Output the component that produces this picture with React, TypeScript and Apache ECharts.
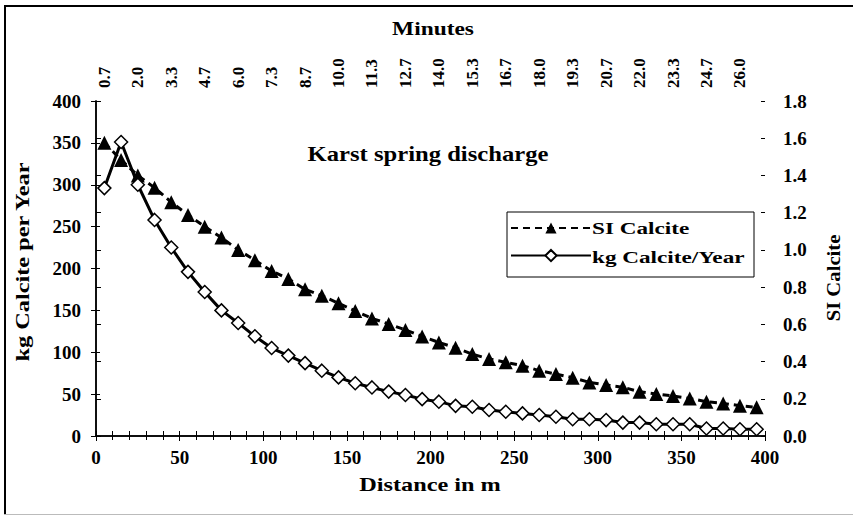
import React, { useEffect, useRef } from "react";
import * as echarts from "echarts";

const distances = [5, 15, 25, 35, 45, 55, 65, 75, 85, 95, 105, 115, 125, 135, 145, 155, 165, 175, 185, 195, 205, 215, 225, 235, 245, 255, 265, 275, 285, 295, 305, 315, 325, 335, 345, 355, 365, 375, 385, 395];
const minutes = ["0.7", "1.3", "2.0", "2.7", "3.3", "4.0", "4.7", "5.3", "6.0", "6.7", "7.3", "8.0", "8.7", "9.3", "10.0", "10.7", "11.3", "12.0", "12.7", "13.3", "14.0", "14.7", "15.3", "16.0", "16.7", "17.3", "18.0", "18.7", "19.3", "20.0", "20.7", "21.3", "22.0", "22.7", "23.3", "24.0", "24.7", "25.3", "26.0", "26.7"];
const kgCalcite = [296, 351, 300, 258, 225, 196, 172, 150, 135, 119, 105, 96, 87, 78, 70, 63, 58, 53, 49, 44, 41, 36, 35, 31, 29, 27, 25, 23, 20, 20, 19, 16, 16, 14, 14, 14, 9, 9, 8, 8];
const siCalcite = [1.576, 1.483, 1.40, 1.334, 1.256, 1.188, 1.125, 1.066, 1.0, 0.945, 0.887, 0.844, 0.788, 0.754, 0.713, 0.672, 0.632, 0.602, 0.57, 0.535, 0.503, 0.474, 0.44, 0.414, 0.396, 0.378, 0.351, 0.333, 0.313, 0.288, 0.274, 0.262, 0.238, 0.226, 0.215, 0.202, 0.184, 0.175, 0.163, 0.154];
const seriesNames = ["SI Calcite", "kg Calcite/Year"];

const FONT = "Liberation Serif";

export default function App() {
  const ref = useRef<HTMLDivElement>(null);
  useEffect(() => {
    if (!ref.current) return;
    const chart = echarts.init(ref.current, undefined, { renderer: "svg" });
    const lbl = { fontFamily: FONT, fontWeight: "bold" as const, fontSize: 19, color: "#000" };
    const axisLine = { show: true, lineStyle: { color: "#000", width: 1.5 } };
    const tickOut = { show: true, length: 5, lineStyle: { color: "#000", width: 1 } };
    const tickIn = { show: true, inside: true, length: 4, lineStyle: { color: "#000", width: 1 } };
    const txt = (text: string, x: number, y: number, size: number, sx: number, rot = 0) => ({
      type: "text", x, y, rotation: rot, scaleX: sx, scaleY: 1,
      style: { text, font: `bold ${size}px "${FONT}"`, fill: "#000", align: "center", verticalAlign: "middle" },
    });
    chart.setOption({
      animation: false,
      backgroundColor: "#fff",
      grid: { left: 96, right: 88, top: 101, bottom: 80, containLabel: false },
      xAxis: [
        {
          type: "value", position: "bottom", min: 0, max: 400, interval: 50,
          axisLine, axisTick: tickOut, splitLine: { show: false },
          axisLabel: { ...lbl, margin: 12 },
        },
        {
          type: "category", position: "top", data: minutes, boundaryGap: true,
          axisLine, axisTick: { ...tickOut, interval: 0 }, splitLine: { show: false },
          axisLabel: { ...lbl, fontSize: 17, interval: 1, rotate: 90, margin: 13 },
        },
        {
          type: "value", position: "bottom", min: 0, max: 400, interval: 50,
          axisLine: { show: false }, axisTick: tickIn, axisLabel: { show: false }, splitLine: { show: false },
        },
        {
          type: "category", position: "top", data: minutes, boundaryGap: true,
          axisLine: { show: false }, axisTick: { ...tickIn, interval: 0 }, axisLabel: { show: false }, splitLine: { show: false },
        },
      ],
      yAxis: [
        {
          type: "value", position: "left", min: 0, max: 400, interval: 50,
          axisLine, axisTick: tickOut, splitLine: { show: false },
          axisLabel: { ...lbl, margin: 15 },
        },
        {
          type: "value", position: "right", min: 0, max: 1.8, interval: 0.2,
          axisLine, axisTick: tickOut, splitLine: { show: false },
          axisLabel: { ...lbl, margin: 18, formatter: (v: number) => v.toFixed(1) },
        },
        {
          type: "value", position: "left", min: 0, max: 400, interval: 50,
          axisLine: { show: false }, axisTick: tickIn, axisLabel: { show: false }, splitLine: { show: false },
        },
        {
          type: "value", position: "right", min: 0, max: 1.8, interval: 0.2,
          axisLine: { show: false }, axisTick: tickIn, axisLabel: { show: false }, splitLine: { show: false },
        },
      ],
      legend: {
        orient: "vertical", left: 510, top: 221,
        itemWidth: 80, itemHeight: 14, itemGap: 15,
        padding: 0, selectedMode: false,
        formatter: () => "",
        textStyle: { fontSize: 1 },
        data: seriesNames,
      },
      graphic: [
        txt("Karst spring discharge", 428, 153, 22, 1.12),
        txt("Minutes", 433, 29, 18, 1.3),
        txt("Distance in m", 430, 485, 18, 1.35),
        txt("kg Calcite per Year", 23, 262, 18, 1.35, Math.PI / 2),
        txt("SI Calcite", 834, 278, 18, 1.15, Math.PI / 2),
        { type: "rect", shape: { x: 507, y: 212, width: 247, height: 65 }, style: { fill: "none", stroke: "#000", lineWidth: 1 } },
        { type: "text", x: 592, y: 228, scaleX: 1.45, style: { text: seriesNames[0], font: `bold 16px "${FONT}"`, fill: "#000", align: "left", verticalAlign: "middle" } },
        { type: "text", x: 592, y: 257, scaleX: 1.45, style: { text: seriesNames[1], font: `bold 16px "${FONT}"`, fill: "#000", align: "left", verticalAlign: "middle" } },
        { type: "line", shape: { x1: 4, y1: 6, x2: 853, y2: 6 }, style: { stroke: "#000", lineWidth: 2 } },
        { type: "line", shape: { x1: 5, y1: 5, x2: 5, y2: 515 }, style: { stroke: "#000", lineWidth: 2 } },
        { type: "line", shape: { x1: 4, y1: 514.5, x2: 853, y2: 514.5 }, style: { stroke: "#bbb", lineWidth: 1 } },
      ],
      series: [
        {
          name: seriesNames[0], type: "line", xAxisIndex: 0, yAxisIndex: 1,
          data: distances.map((d, i) => [d, siCalcite[i]]),
          symbol: "triangle", symbolSize: 14,
          itemStyle: { color: "#000", borderColor: "#000", borderWidth: 0 },
          lineStyle: { color: "#000", width: 3, type: [7, 5] },
          z: 3,
        },
        {
          name: seriesNames[1], type: "line", xAxisIndex: 0, yAxisIndex: 0,
          data: distances.map((d, i) => [d, kgCalcite[i]]),
          symbol: "diamond", symbolSize: 13, showAllSymbol: true,
          itemStyle: { color: "#fff", borderColor: "#000", borderWidth: 1.5 },
          lineStyle: { color: "#000", width: 3 },
          z: 4,
        },
      ],
    });
    return () => chart.dispose();
  }, []);
  return <div ref={ref} style={{ position: "fixed", left: 0, top: 0, width: 853, height: 516 }} />;
}
